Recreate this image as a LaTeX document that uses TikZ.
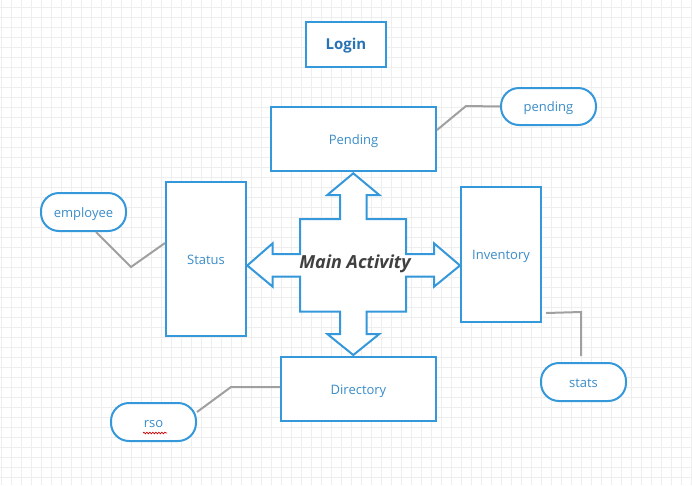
\documentclass[tikz,border=0pt]{standalone}
\usepackage{fontspec}
\setmainfont{Open Sans}
\usetikzlibrary{calc,decorations.pathmorphing}
\definecolor{boxblue}{RGB}{52,152,219}
\definecolor{txtblue}{RGB}{58,140,200}
\definecolor{loginblue}{RGB}{40,115,180}
\definecolor{conngray}{RGB}{160,160,160}
\definecolor{gridgray}{RGB}{238,238,238}
\definecolor{darktxt}{RGB}{64,64,64}
\tikzset{
  box/.style={draw=boxblue, line width=2pt, fill=white, rectangle, inner sep=0pt,
    font=\fontsize{13}{15}\selectfont, text=txtblue, text height=14pt, text depth=3.5pt},
  pill/.style={draw=boxblue, line width=2pt, fill=white, rectangle, rounded corners=18pt,
    inner sep=0pt, minimum width=85pt, minimum height=38pt,
    font=\fontsize{13}{15}\selectfont, text=txtblue, text height=14pt, text depth=3.5pt},
  conn/.style={draw=conngray, line width=2pt},
}
\begin{document}
\begin{tikzpicture}[x=1pt,y=-1pt]
\useasboundingbox (0,0) rectangle (692,485);
\fill[white] (0,0) rectangle (692,485);
\foreach \i in {1,11,...,691} \draw[gridgray, line width=0.7pt] (\i,0) -- (\i,485);
\foreach \j in {7,17,...,485} \draw[gridgray, line width=0.7pt] (0,\j) -- (692,\j);

% boxes
\node[box, minimum width=80pt, minimum height=45pt, text=loginblue,
  font=\fontsize{15}{18}\selectfont\bfseries] (login) at (346,44.5) {Login};
\node[box, minimum width=165pt, minimum height=64pt] (pendingbox) at (353.5,139) {Pending};
\node[box, minimum width=80pt, minimum height=154pt] (statusbox) at (206,259) {Status};
\node[box, minimum width=80pt, minimum height=135pt] (invbox) at (501,254.5) {Inventory};
\node[box, minimum width=155pt, minimum height=64pt] (dirbox) at (358.5,389) {Directory};

% pills
\node[pill, minimum width=95pt, minimum height=37pt] (pendingpill) at (548.5,106.5) {pending};
\node[pill] (employee) at (83.5,212) {employee};
\node[pill] (stats) at (583.5,382) {stats};
\node[pill] (rso) at (153.5,422) {rso};
\draw[red!80!black, line width=0.7pt, decorate, decoration={snake, amplitude=0.8pt, segment length=3pt}]
  ($(rso.center)+(-10.5,11)$) -- ($(rso.center)+(13.5,11)$);

% cross arrow
\draw[draw=boxblue, line width=2pt, fill=white, line join=miter]
  (353.3,173.3) -- (379.3,195) -- (366.7,195) -- (366.7,219) -- (406,219)
  -- (406,254) -- (434,254) -- (434,243.3) -- (460,265.5) -- (434,286.7) -- (434,276.7) -- (406,276.7)
  -- (406,311.7) -- (366.7,311.7) -- (366.7,334) -- (379.3,334) -- (353.3,355) -- (327.3,334) -- (340,334) -- (340,311.7)
  -- (300,311.7) -- (300,276.7) -- (272.7,276.7) -- (272.7,286.7) -- (247.3,265.5) -- (272.7,243.3) -- (272.7,254) -- (300,254)
  -- (300,219) -- (340,219) -- (340,195) -- (327.3,195) -- cycle;
\node[font=\fontsize{18}{20}\selectfont\bfseries\itshape, text=darktxt, inner sep=0pt] (main) at (355,264) {Main Activity};

% connectors
\coordinate (pbend) at (466,106);
\draw[conn] ([yshift=9pt]pendingbox.east) -- (pbend) -- (pendingpill.west);
\coordinate (ebend) at (131,267);
\draw[conn] ([xshift=12.5pt]employee.south) -- (ebend) -- ([yshift=16pt]statusbox.west);
\coordinate (rbend) at (231,387);
\draw[conn] ([yshift=10pt]rso.east) -- (rbend) -- ([yshift=2pt]dirbox.west);
\coordinate (sstart) at ($(invbox.south east)+(4,-10)$);
\coordinate (sbend) at (581,312);
\coordinate (send) at ($(stats.north)+(-2.5,-6)$);
\draw[conn] (sstart) -- (sbend) -- (send);
\end{tikzpicture}
\end{document}
